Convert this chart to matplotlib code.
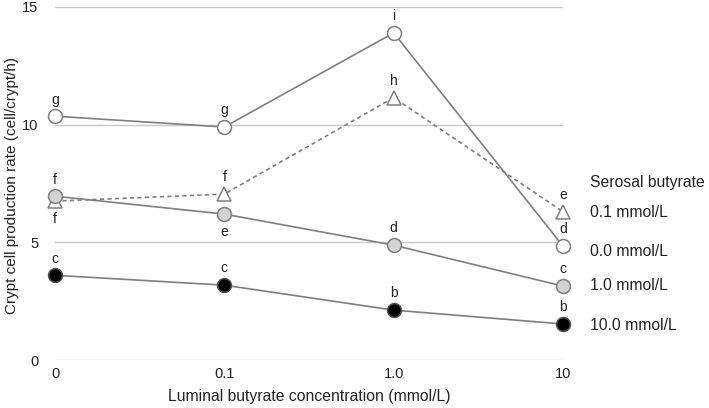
import matplotlib
matplotlib.use("Agg")
import matplotlib.pyplot as plt

plt.rcParams['font.family'] = ['Liberation Sans', 'DejaVu Sans']

categories = ["0", "0.1", "1.0", "10"]
series_names = ["0.1 mmol/L", "0.0 mmol/L", "1.0 mmol/L", "10.0 mmol/L"]
vals_01 = [6.75, 7.05, 11.15, 6.3]
vals_00 = [10.36, 9.9, 13.9, 4.84]
vals_10 = [6.96, 6.2, 4.88, 3.14]
vals_100 = [3.6, 3.18, 2.12, 1.53]
letters_01 = ["f", "f", "h", "e"]
letters_00 = ["g", "g", "i", "d"]
letters_10 = ["f", "e", "d", "c"]
letters_100 = ["c", "c", "b", "b"]
# position of letter: +1 above, -1 below
pos_01 = [-1, 1, 1, 1]
pos_00 = [1, 1, 1, 1]
pos_10 = [1, -1, 1, 1]
pos_100 = [1, 1, 1, 1]
yticks = [0, 5, 10, 15]

fig = plt.figure(figsize=(7.09, 4.08), dpi=100)
ax = fig.add_axes([55/709, 1-360/408, (563-55)/709, (360-7)/408])

x = list(range(len(categories)))
lc = "#7f7f7f"
specs = [
    (vals_00, letters_00, pos_00, dict(marker="o", mfc="white", mec=lc, ls="-")),
    (vals_01, letters_01, pos_01, dict(marker="^", mfc="white", mec=lc, ls=(0, (2.5, 2)))),
    (vals_10, letters_10, pos_10, dict(marker="o", mfc="#d3d3d3", mec=lc, ls="-")),
    (vals_100, letters_100, pos_100, dict(marker="o", mfc="black", mec="#555555", ls="-")),
]
for vals, lets, poss, st in specs:
    ax.plot(x, vals, color=lc, lw=1.2, ms=10, mew=1.1, clip_on=False, zorder=3, **st)
    for xi, v, l, p in zip(x, vals, lets, poss):
        off = 12 if p > 0 else -13
        ax.annotate(l, (xi, v), xytext=(0, off), textcoords="offset points",
                    ha="center", va="center", fontsize=10, color="#222222")

ax.set_xlim(0, 3)
ax.set_ylim(0, 15)
ax.set_yticks(yticks)
ax.set_xticks(x)
ax.set_xticklabels(categories)
ax.grid(axis="y", color="#c8c8c8", lw=1)
ax.set_axisbelow(True)
for s in ax.spines.values():
    s.set_visible(False)
ax.tick_params(length=0, labelsize=10.5, colors="#222222")
ax.tick_params(axis="x", pad=5)
ax.tick_params(axis="y", pad=12)

fig.text(12/709, 1-185/408, "Crypt cell production rate (cell/crypt/h)", fontsize=11,
         color="#222222", rotation=90, ha="center", va="center")
fig.text(309/709, 1-396/408, "Luminal butyrate concentration (mmol/L)", fontsize=11.3,
         color="#222222", ha="center", va="center")

# legend-like labels
fig.text(590/709, 1-183/408, "Serosal butyrate", fontsize=11.3, va="center", ha="left", color="#222222")
label_y = [212, 251, 286, 325]
for name, yp in zip(series_names, label_y):
    fig.text(590/709, 1-yp/408, name, fontsize=11.3, va="center", ha="left", color="#222222")

fig.savefig("out.png", dpi=100)
